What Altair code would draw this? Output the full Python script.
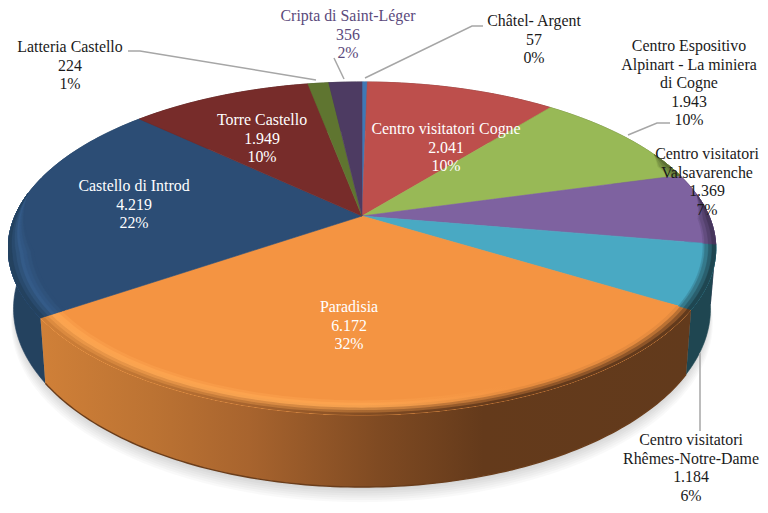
import math
import altair as alt
import pandas as pd

# ---- values
names = ["Châtel- Argent", "Centro visitatori Cogne", "Centro Espositivo\nAlpinart - La miniera\ndi Cogne",
         "Centro visitatori\nValsavarenche", "Centro visitatori\nRhêmes-Notre-Dame", "Paradisia",
         "Castello di Introd", "Torre Castello", "Latteria Castello", "Cripta di Saint-Léger"]
values = [57, 2041, 1943, 1369, 1184, 6172, 4219, 1949, 224, 356]
top_colors = ["#3f78b5", "#bd4f4c", "#98b956", "#7e62a0", "#49a9c3", "#f49442", "#2c4d75", "#772c2a", "#5f7530", "#4d3b62"]
wall_colors = ["#25476c", "#70302e", "#5b6f33", "#46365c", "#1f4651", "#8a5024", "#24425f", "#471a19", "#38451c", "#2d233a"]
label_colors = ["#1a1a1a", "#ffffff", "#1a1a1a", "#1a1a1a", "#1a1a1a", "#ffffff", "#ffffff", "#ffffff", "#1a1a1a", "#5b4a7c"]
label_x = [534, 446, 689, 707, 691, 349, 134, 262, 70, 348]
label_y = [26, 134, 51, 159, 445, 312, 191, 125, 52, 21]
leaders = [[(128, 51), (140, 51), (316, 80)], [(334, 58), (344, 79)], [(365, 78), (472, 26), (483, 26)],
           [(628, 135), (657, 123), (670, 123)], [(700, 353), (700, 431)]]
wall_stops = [(0, "#d08038"), (.17, "#bc7333"), (.32, "#a8642e"), (.52, "#7f4a22"), (.68, "#643a1b"), (1, "#623a1c")]

total = sum(values)
cum = [0]
for v in values:
    cum.append(cum[-1] + v)
ang = [c / total * 2 * math.pi for c in cum]

CX, CY, A, B, K, H = 362, 216, 347, 160.2, 0.195, 58


def top_pt(r, t):
    u, v = r * math.sin(t), -r * math.cos(t)
    d = 1 - K * v
    return [CX + A * u / d, CY + B * v / d]


def low_pt(r, t, dy=0.0, grow=1.0):
    u, v = r * math.sin(t), -r * math.cos(t)
    d = 1 - K * v
    return [CX + A * u / d * .985 * grow, CY + B * v / d * grow + H / d + dy]


def arc(fn, r, t0, t1, **kw):
    n = max(2, int(abs(t1 - t0) * 60))
    return [fn(r, t0 + (t1 - t0) * i / n, **kw) for i in range(n + 1)]


def feature(coords, name="", kind="Polygon"):
    if kind == "Polygon":
        coords = [coords + [coords[0]]]
    return {"type": "Feature", "properties": {"name": name}, "geometry": {"type": kind, "coordinates": coords}}


def source(features):
    return alt.InlineData(values={"type": "FeatureCollection", "features": features},
                          format=alt.DataFormat(type="json", property="features"))


def hex2(c):
    return [int(c[i:i + 2], 16) for i in (1, 3, 5)]


def mix(a, b, t):
    x, y = hex2(a), hex2(b)
    return "#%02x%02x%02x" % tuple(round(p + (q - p) * t) for p, q in zip(x, y))


def wall_at(o):
    for (o0, c0), (o1, c1) in zip(wall_stops, wall_stops[1:]):
        if o <= o1:
            return mix(c0, c1, (o - o0) / (o1 - o0))
    return wall_stops[-1][1]


PROJ = dict(type="identity", scale=1, translate=[-8, -8])


def flat(features):
    return alt.Chart(source(features)).mark_geoshape().encode(
        fill=alt.Color("properties.name:N", scale=None),
        stroke=alt.Stroke("properties.name:N", scale=None),
        strokeWidth=alt.value(0.6)).project(**PROJ)


def grad(features, stops):
    return alt.Chart(source(features)).mark_geoshape(
        fill=alt.LinearGradient(gradient="linear", x1=0, x2=1, y1=0, y2=0,
                                stops=[alt.GradientStop(offset=o, color=c) for o, c in stops])).project(**PROJ)


layers = []

# soft shadow under the disc
for i in range(7):
    pts = [low_pt(1, 2 * math.pi * j / 180, dy=3 + 1.8 * i, grow=0.995 + 0.002 * i) for j in range(180)]
    layers.append(alt.Chart(source([feature(pts)])).mark_geoshape(fill="#000000", opacity=0.025).project(**PROJ))

# outer walls, back to front
def wall_poly(i):
    return arc(top_pt, 1, ang[i], ang[i + 1]) + arc(low_pt, 1, ang[i + 1], ang[i])


layers.append(flat([feature(wall_poly(i), wall_colors[i]) for i in [1, 2, 3, 4, 7, 8, 9, 0, 6]]))
layers.append(grad([feature(wall_poly(5))], wall_stops))
layers.append(alt.Chart(source([feature(arc(low_pt, 1, ang[5], ang[6]), kind="LineString")])).mark_geoshape(
    filled=False, stroke="#6a3d1b", strokeWidth=1.4).project(**PROJ))

# flat top faces
tops = [feature([[CX, CY]] + arc(top_pt, 1, ang[i], ang[i + 1]), top_colors[i]) for i in range(len(values))]
layers.append(flat(tops))

# rounded rim shading
RINGS = 7
R0 = 0.93


def ring_poly(t0, t1, r0, r1):
    return arc(top_pt, r1, t0, t1) + arc(top_pt, r0, t1, t0)


def taper_ring(t0, t1, r0, fade_at_start):
    """Rim strip whose inner edge narrows to nothing towards one end."""
    n = 40
    inner = []
    for i in range(n + 1):
        f = i / n
        w = f if fade_at_start else 1 - f
        r = 1 - (1 - r0) * min(1, w / 0.5)
        inner.append(top_pt(r, t0 + (t1 - t0) * f))
    return arc(top_pt, 1, t0, t1) + inner[::-1]


for k in range(RINGS):
    t = k / (RINGS - 1)
    r_in = R0 + (1 - R0) * k / RINGS
    # Paradisia
    stops = []
    for o in [0, .17, .32, .5, .6, .72, .85, 1]:
        h = 1 if o <= .5 else max(0, (.72 - o) / .22)
        mid = mix(top_colors[5], "#ffa852", h)
        c = mix(top_colors[5], mid, t / .45) if t < .45 else mix(mid, wall_at(o), (t - .45) / .55)
        stops.append((o, c))
    layers.append(grad([feature(ring_poly(ang[5], ang[6], r_in, 1))], stops))
    # Castello di Introd (front part only, narrowing towards the back)
    mid = "#345b88"
    c = mix(top_colors[6], mid, t / .5) if t < .5 else mix(mid, wall_colors[6], (t - .5) / .5)
    end = ang[6] + (ang[7] - ang[6]) * 0.55
    feats = [feature(taper_ring(ang[6], end, r_in, False), c)]
    # right edge slices fade to dark
    if t > .35:
        c4 = mix(top_colors[4], wall_colors[4], (t - .35) / .65)
        c3 = mix(top_colors[3], wall_colors[3], (t - .35) / .65)
        c2 = mix(top_colors[2], wall_colors[2], (t - .35) / .65)
        rr = max(r_in, .965)
        feats.append(feature(ring_poly(ang[4], ang[5], rr, 1), c4))
        feats.append(feature(taper_ring(ang[3] + (ang[4] - ang[3]) * 0.3, ang[4], rr, True), c3))
        feats.append(feature(taper_ring(ang[2] + (ang[3] - ang[2]) * 0.75, ang[3], rr, True), c2))
    layers.append(flat(feats))

# leader lines
layers.append(alt.Chart(source([feature([list(p) for p in ln], kind="LineString") for ln in leaders])).mark_geoshape(
    filled=False, stroke="#a6a6a6", strokeWidth=1.5).project(**PROJ))


def fmt(v):
    return f"{v:,}".replace(",", ".")


labels = pd.DataFrame({
    "text": [f"{n}\n{fmt(v)}\n{round(v / total * 100)}%" for n, v in zip(names, values)],
    "x": [x - 8 for x in label_x],
    "y": [y - 8 for y in label_y],
    "c": label_colors,
})
layers.append(alt.Chart(labels).mark_text(font="Liberation Serif", fontSize=15.9, lineHeight=18.6,
                                          lineBreak="\n", baseline="alphabetic", align="center").encode(
    x=alt.X("x:Q", scale=None, axis=None), y=alt.Y("y:Q", scale=None, axis=None),
    text="text:N", color=alt.Color("c:N", scale=None)))

chart = alt.layer(*layers).properties(width=752, height=497, padding=0,
                                      autosize=alt.AutoSizeParams(type="none"),
                                      background="#ffffff").configure_view(stroke=None)
chart.save("out.html", embed_options={"renderer": "svg", "actions": False})
